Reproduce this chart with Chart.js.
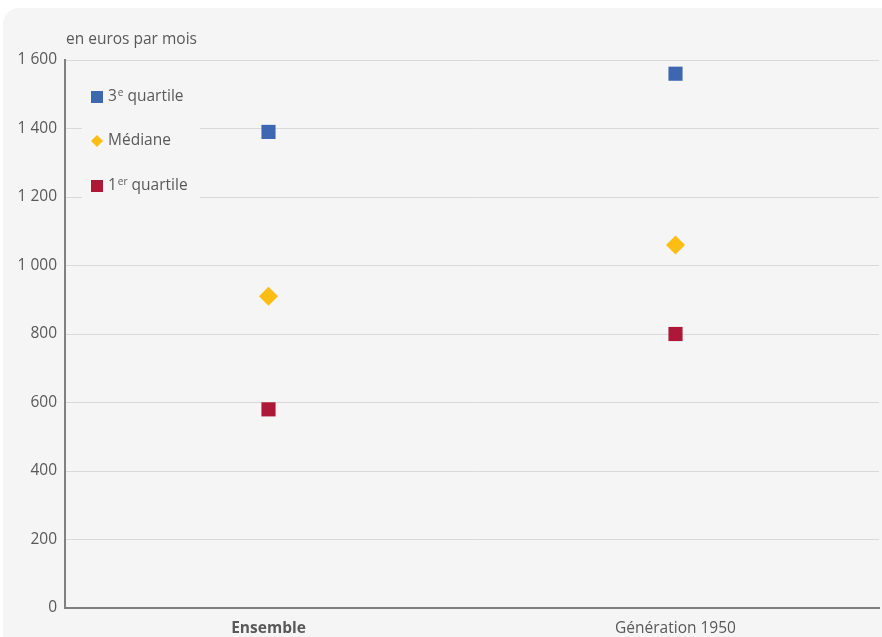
<!DOCTYPE html>
<html>
<head>
<meta charset="utf-8">
<script src="https://cdn.jsdelivr.net/npm/chart.js@4/dist/chart.umd.min.js"></script>
<style>
  body { margin: 0; background: #ffffff; overflow: hidden; }
  #panel { position: absolute; left: 3px; top: 8px; width: 920px; height: 680px; background: #f5f5f5; border-radius: 16px; }
  #wrap { position: absolute; left: 0; top: 0; width: 882px; height: 637px; overflow: hidden; }
</style>
</head>
<body>
<div id="panel"></div>
<div id="wrap"><canvas id="chart" width="889" height="637"></canvas></div>
<script>
// data
const categories = ['Ensemble', 'Génération 1950'];
const q3_values = [1390, 1560];
const median_values = [910, 1060];
const q1_values = [580, 800];
// legend labels: [main, superscript, rest]
const series_labels = [['3', 'e', ' quartile'], ['Médiane', '', ''], ['1', 'er', ' quartile']];
const unit_label = 'en euros par mois';

const FONT = '"Open Sans", "Noto Sans", sans-serif';
const TEXT = '#595959';
const colors = ['#3f67b1', '#fdbd12', '#ad1839'];
const styles = ['rect', 'rectRot', 'rect'];

function fmt(v) {
    return String(v).replace(/\B(?=(\d{3})+(?!\d))/g, ' ');
}

// legend box drawn over the grid + unit label
const customLegend = {
    id: 'customLegend',
    beforeDatasetsDraw(chart) {
        const ctx = chart.ctx;
        ctx.save();
        ctx.fillStyle = '#f5f5f5';
        ctx.fillRect(82, 74, 118, 132);
        const rows = [97, 141, 186];
        rows.forEach((y, i) => {
            ctx.fillStyle = colors[i];
            if (styles[i] == 'rect') {
                ctx.fillRect(91, y - 6, 12, 12);
            } else {
                ctx.beginPath();
                ctx.moveTo(97, y - 6);
                ctx.lineTo(103, y);
                ctx.lineTo(97, y + 6);
                ctx.lineTo(91, y);
                ctx.closePath();
                ctx.fill();
            }
            const lab = series_labels[i];
            ctx.fillStyle = TEXT;
            ctx.textBaseline = 'middle';
            ctx.font = '15.5px ' + FONT;
            let x = 108;
            ctx.fillText(lab[0], x, y);
            x += ctx.measureText(lab[0]).width + 1;
            if (lab[1]) {
                ctx.font = '10px ' + FONT;
                ctx.fillText(lab[1], x, y - 4);
                x += ctx.measureText(lab[1]).width;
                ctx.font = '15.5px ' + FONT;
            }
            if (lab[2]) ctx.fillText(lab[2], x, y);
        });
        ctx.font = '15.5px ' + FONT;
        ctx.textBaseline = 'middle';
        ctx.fillText(unit_label, 66, 40);
        ctx.restore();
    }
};

function make_set(label, data, i) {
    return {
        label: label,
        data: data,
        showLine: false,
        pointStyle: styles[i],
        pointRadius: styles[i] == 'rect' ? 10 : 9.5,
        pointHoverRadius: styles[i] == 'rect' ? 10 : 9.5,
        pointBackgroundColor: colors[i],
        pointBorderWidth: 0,
        backgroundColor: colors[i],
        borderColor: colors[i]
    };
}

new Chart(document.getElementById('chart'), {
    type: 'line',
    data: {
        labels: categories,
        datasets: [
            make_set('3e quartile', q3_values, 0),
            make_set('Médiane', median_values, 1),
            make_set('1er quartile', q1_values, 2)
        ]
    },
    options: {
        responsive: false,
        animation: false,
        events: [],
        layout: { padding: { top: 60, right: 3, left: 0, bottom: 0 } },
        plugins: {
            legend: { display: false },
            tooltip: { enabled: false },
            title: { display: false }
        },
        scales: {
            x: {
                offset: true,
                grid: { display: false, drawTicks: false },
                border: { color: '#808080', width: 2 },
                ticks: {
                    padding: 11,
                    color: TEXT,
                    font: ctx => ({ family: FONT, size: 15.5, weight: ctx.index === 0 ? 'bold' : 'normal' })
                },
                afterFit(scale) { scale.height = 29; }
            },
            y: {
                min: 0,
                max: 1600,
                ticks: {
                    stepSize: 200,
                    padding: 8,
                    color: TEXT,
                    font: { family: FONT, size: 15.5 },
                    callback: v => fmt(v)
                },
                grid: { color: '#d9d9d9', lineWidth: 1, drawTicks: false },
                border: { color: '#808080', width: 2 },
                afterFit(scale) { scale.width = 65; }
            }
        }
    },
    plugins: [customLegend]
});
</script>
</body>
</html>
